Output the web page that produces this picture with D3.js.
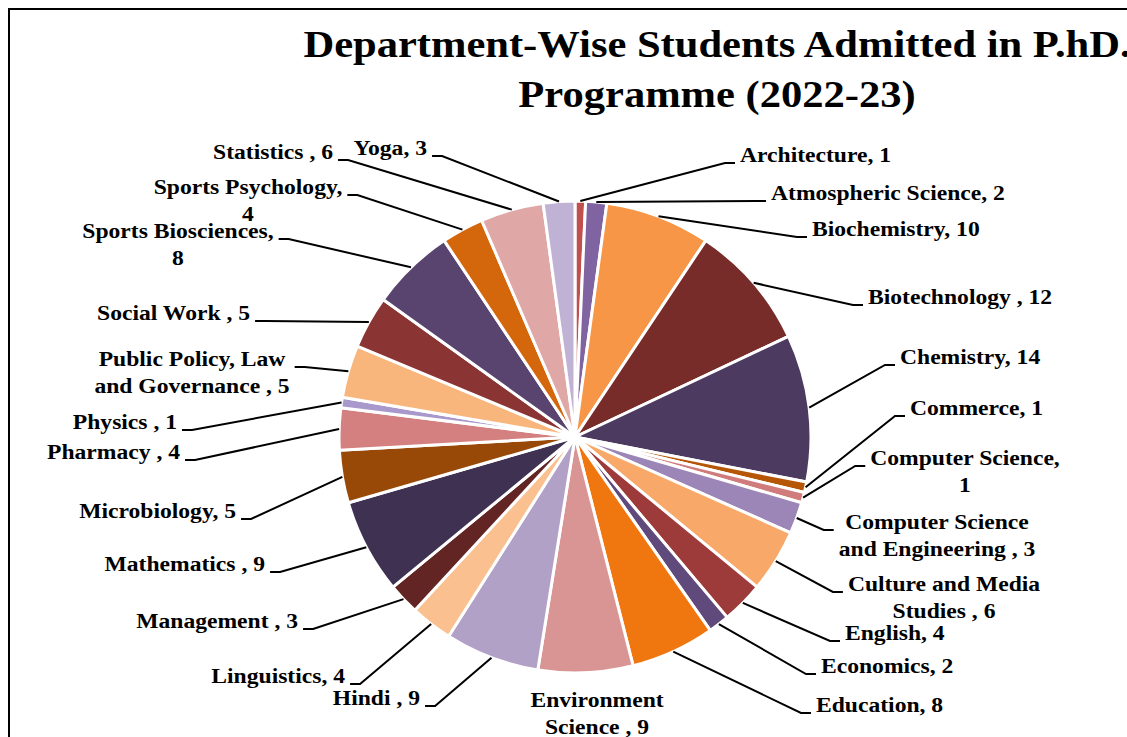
<!DOCTYPE html>
<html>
<head>
<meta charset="utf-8">
<script src="https://cdn.jsdelivr.net/npm/d3@7/dist/d3.min.js"></script>
<style>
  body { margin: 0; background: #fff; }
  text { font-family: "Liberation Serif", "Times New Roman", serif; font-weight: bold; fill: #000; }
</style>
</head>
<body>
<div id="chart"></div>
<script>
// department names as they appear in the data labels (trailing spaces kept)
var departments = [
    "Architecture", "Atmospheric Science", "Biochemistry", "Biotechnology ", "Chemistry",
    "Commerce", "Computer Science", "Computer Science and Engineering ", "Culture and Media Studies ",
    "English", "Economics", "Education", "Environment Science ", "Hindi ", "Linguistics",
    "Management ", "Mathematics ", "Microbiology", "Pharmacy ", "Physics ",
    "Public Policy, Law and Governance ", "Social Work ", "Sports Biosciences", "Sports Psychology",
    "Statistics ", "Yoga"];

var students = [1, 2, 10, 12, 14, 1, 1, 3, 6, 4, 2, 8, 9, 9, 4, 3, 9, 5, 4, 1, 5, 5, 8, 4, 6, 3];

var colors = [
    "#C0504D", "#8064A2", "#F79646", "#772C2A", "#4D3A60",
    "#B65708", "#D07C7C", "#9C86B8", "#F8A96A",
    "#9C3B3A", "#604A7B", "#F0760F", "#D99594", "#B2A1C7", "#FAC08F",
    "#632523", "#3F3151", "#984807", "#D48080", "#A898CB",
    "#F8B67C", "#8A3433", "#58446F", "#D4660B",
    "#DFA7A6", "#C0B2D4"];

var titleLines = ["Department-Wise Students Admitted in P.hD.", "Programme (2022-23)"];

// label layout: [x, first line middle y, words on first line (0 = one line), anchor, leader line]
var labelPos = [
    [740, 155, 0, "start", true],
    [771, 193, 0, "start", true],
    [812, 229, 0, "start", true],
    [868, 297, 0, "start", true],
    [900, 357, 0, "start", true],
    [910, 408, 0, "start", true],
    [965, 458, 2, "middle", true],
    [937, 522, 2, "middle", true],
    [944, 584, 3, "middle", true],
    [845, 633, 0, "start", true],
    [821, 666, 0, "start", true],
    [816, 705, 0, "start", true],
    [597, 700, 1, "middle", false],
    [420, 698, 0, "end", true],
    [345, 676, 0, "end", true],
    [298, 621, 0, "end", true],
    [265, 564, 0, "end", true],
    [236, 511, 0, "end", true],
    [180, 452, 0, "end", true],
    [177, 422, 0, "end", true],
    [192, 359, 3, "middle", true],
    [250, 313, 0, "end", true],
    [178, 231, 2, "middle", true],
    [248, 187, 2, "middle", true],
    [333, 152, 0, "end", true],
    [427, 148, 0, "end", true]];

var width = 1127,
    height = 737;

var cx = 575, cy = 437, radius = 236;
var stretch = 1.18;

var svg = d3.select("#chart").append("svg")
    .attr("width", width)
    .attr("height", height);

// chart frame (runs off the right and bottom of the picture)
svg.append("rect")
    .attr("x", 9).attr("y", 9)
    .attr("width", 1300).attr("height", 900)
    .attr("fill", "none")
    .attr("stroke", "#000")
    .attr("stroke-width", 2);

// title
var title = svg.append("g")
    .attr("transform", "translate(717,0) scale(1.15,1)");
title.selectAll("text")
    .data(titleLines)
    .enter().append("text")
    .attr("x", 0)
    .attr("y", function(d, i) { return 57 + i * 50; })
    .attr("text-anchor", "middle")
    .style("font-size", "37px")
    .text(function(d) { return d; });

// pie
var pie = d3.pie().sort(null).value(function(d) { return d; });
var arcs = pie(students);
var arc = d3.arc().innerRadius(0).outerRadius(radius);

var g = svg.append("g").attr("transform", "translate(" + cx + "," + cy + ")");

g.selectAll("path")
    .data(arcs)
    .enter().append("path")
    .attr("d", arc)
    .attr("fill", function(d, i) { return colors[i]; })
    .attr("stroke", "#fff")
    .attr("stroke-width", 3)
    .attr("stroke-linejoin", "round");

// data labels with leader lines
var labels = svg.append("g");
var leaders = svg.append("g");

arcs.forEach(function(d, i) {
    var p = labelPos[i];
    var txt = departments[i] + ", " + students[i];
    var words = txt.split(" ");
    var lines = p[2] ? [words.slice(0, p[2]).join(" "), words.slice(p[2]).join(" ")] : [txt];

    var lg = labels.append("g")
        .attr("transform", "translate(" + p[0] + "," + p[1] + ") scale(" + stretch + ",1)");
    var t = lg.append("text")
        .attr("text-anchor", p[3])
        .style("font-size", "20px");
    lines.forEach(function(l, k) {
        t.append("tspan")
            .attr("x", 0)
            .attr("y", 7 + k * 27)
            .text(l);
    });

    if (!p[4]) return;

    var bb = t.node().getBBox();
    var a = (d.startAngle + d.endAngle) / 2;
    var sx = cx + radius * Math.sin(a),
        sy = cy - radius * Math.cos(a);
    var ly = p[1] + 8;
    var pts;
    if (Math.sin(a) > 0) {
        var left = p[0] + bb.x * stretch;
        pts = [[sx, sy], [left - 15, ly], [left - 5, ly]];
    } else {
        var right = p[0] + (bb.x + bb.width) * stretch;
        pts = [[sx, sy], [right + 15, ly], [right + 5, ly]];
    }
    leaders.append("path")
        .attr("d", d3.line()(pts))
        .attr("fill", "none")
        .attr("stroke", "#000")
        .attr("stroke-width", 2);
});
</script>
</body>
</html>
